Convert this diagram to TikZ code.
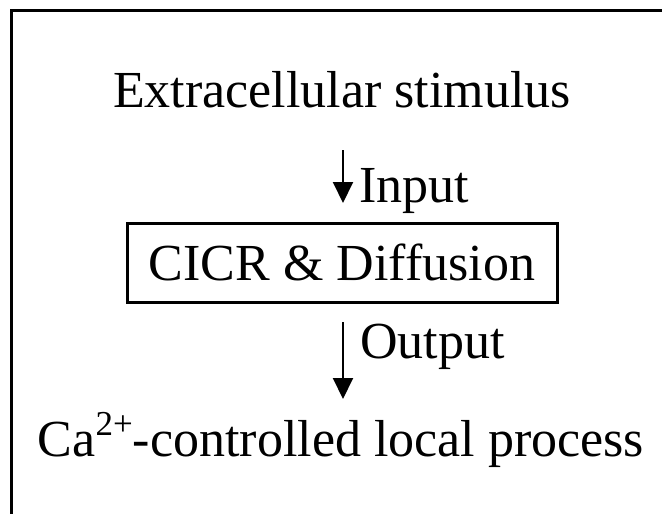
\documentclass[tikz,border=0pt]{standalone}
\usepackage{fontspec}
\setmainfont{Liberation Serif}
\usetikzlibrary{arrows.meta}

\newcommand{\bigsup}[1]{\raisebox{21pt}{\fontsize{35}{40}\selectfont #1}}

\tikzset{
  bigtext/.style={font=\fontsize{52}{60}\selectfont, inner sep=0pt},
  flowarrow/.style={line width=2pt, -{Triangle[length=21pt, width=20pt]}},
  procbox/.style={draw, line width=3pt, minimum width=430pt, minimum height=79pt, inner sep=0pt}
}

\begin{document}
\begin{tikzpicture}[x=1pt, y=-1pt, line join=miter]
		
		\useasboundingbox (0,0) rectangle (662,514);
		
		% Outer frame (only left and top edges are visible)
		\draw[line width=3pt] (11,514) -- (11,10) -- (662,10);
		
		% Stages
		\node[bigtext, anchor=base] (stim) at (342,107) {Extracellular stimulus};
		\node[procbox, bigtext] (cicr) at (342,262.5) {CICR \& Diffusion};
		\node[bigtext, anchor=base] (proc) at (341,456) {Ca\bigsup{2+}-controlled local process};
		
		% Arrow ends
		\coordinate (in top) at (343,150);
		\coordinate (in tip) at (343,203);
		\coordinate (out top) at (343,322);
		\coordinate (out tip) at (343,399);
		
		% Arrows and labels
		\draw[flowarrow] (in top) -- (in tip);
		\draw[flowarrow] (out top) -- (out tip);
		\node[bigtext, anchor=base west] (input) at (359,202) {Input};
		\node[bigtext, anchor=base west] (output) at (360,358) {Output};
		
	\end{tikzpicture}
\end{document}
